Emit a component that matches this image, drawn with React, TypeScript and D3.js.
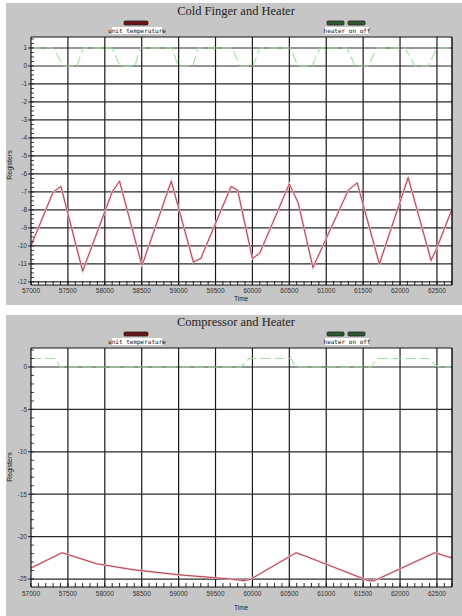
import React from "react";
import * as d3 from "d3";

// x axis ticks (time)
const timeTicks = [57000, 57500, 58000, 58500, 59000, 59500, 60000, 60500, 61000, 61500, 62000, 62500];

// Cold finger chart
const coldTime = [57000, 57300, 57406, 57700, 58100, 58200, 58500, 58520, 58900, 59200, 59300, 59710, 59800, 60000, 60100, 60500, 60620, 60820, 61300, 61420, 61720, 62110, 62420, 62490, 62700];
const coldTemp = [-10.0, -7.0, -6.7, -11.4, -7.0, -6.4, -11.05, -10.9, -6.4, -10.9, -10.7, -6.7, -6.9, -10.7, -10.4, -6.55, -7.6, -11.2, -6.9, -6.5, -11.0, -6.2, -10.8, -10.2, -8.0];
const coldHeaterTime = [57000, 57298, 57447, 57623, 57705, 58098, 58206, 58409, 58477, 58911, 58992, 59195, 59263, 59723, 59832, 60008, 60103, 60509, 60618, 60808, 60916, 61282, 61390, 61566, 61688, 62068, 62203, 62379, 62501, 62705];
const coldHeater = [1, 1, 0, 0, 1, 1, 0, 0, 1, 1, 0, 0, 1, 1, 0, 0, 1, 1, 0, 0, 1, 1, 0, 0, 1, 1, 0, 0, 1, 1];
const coldYTicks = [1, 0, -1, -2, -3, -4, -5, -6, -7, -8, -9, -10, -11, -12];

// Compressor chart
const compTime = [57000, 57420, 57890, 58380, 59000, 59710, 59890, 59980, 60590, 60750, 61570, 61650, 62470, 62660, 62704];
const compTemp = [-23.7, -21.9, -23.2, -23.9, -24.5, -25.0, -25.2, -25.0, -21.9, -22.4, -25.2, -25.2, -21.9, -22.4, -22.5];
const compHeaterTime = [57000, 57325, 57393, 59846, 59954, 60523, 60591, 61607, 61702, 62380, 62515, 62704];
const compHeater = [1, 1, 0, 0, 1, 1, 0, 0, 1, 1, 0, 0];
const compYTicks = [0, -5, -10, -15, -20, -25];

type Pt = [number, number];

interface ChartProps {
  title: string;
  panelTop: number;
  panelBottom: number;
  plotTop: number;
  plotBottom: number;
  yDomain: [number, number];
  yTicks: number[];
  yMinorStep: number;
  temp: Pt[];
  heater: Pt[];
  xLabelY: number;
  timeY: number;
  regY: number;
}

const X0 = 31;
const X1 = 452;
const tickFont = "Liberation Sans, Arial, sans-serif";

function Chart(p: ChartProps) {
  const x = d3.scaleLinear().domain([57000, 62704]).range([X0, X1]);
  const y = d3.scaleLinear().domain(p.yDomain).range([p.plotBottom, p.plotTop]);
  const line = d3
    .line<Pt>()
    .x((d) => x(d[0]))
    .y((d) => y(d[1]));

  const minorX = d3.range(57000, 62704, 100);
  const minorY = d3.range(Math.ceil(p.yDomain[0] / p.yMinorStep) * p.yMinorStep, p.yDomain[1], p.yMinorStep);
  const cx = 236;

  return (
    <g>
      <rect x={6} y={p.panelTop} width={456} height={p.panelBottom - p.panelTop} fill="#c6c6c6" />
      <text x={cx} y={p.plotTop - 22} textAnchor="middle" fontFamily="Liberation Serif, Times New Roman, serif" fontSize={12.5} fill="#222">
        {p.title}
      </text>
      {/* legend */}
      <rect x={124} y={p.plotTop - 16} width={24} height={4} fill="#6a1418" stroke="#222" strokeWidth={0.8} rx={1} />
      <rect x={112} y={p.plotTop - 10} width={50} height={7} fill="#fff" />
      <text x={137} y={p.plotTop - 4.3} textAnchor="middle" fontFamily="DejaVu Sans Mono, monospace" fontSize={6} fill="#111">
        unit temperature
      </text>
      <rect x={327} y={p.plotTop - 16} width={17} height={4} fill="#2f5a2f" stroke="#222" strokeWidth={0.8} rx={1} />
      <rect x={348} y={p.plotTop - 16} width={17} height={4} fill="#2f5a2f" stroke="#222" strokeWidth={0.8} rx={1} />
      <rect x={325} y={p.plotTop - 10} width={44} height={7} fill="#fff" />
      <text x={347} y={p.plotTop - 4.3} textAnchor="middle" fontFamily="DejaVu Sans Mono, monospace" fontSize={6} fill="#111">
        heater on off
      </text>

      {/* plot area */}
      <rect x={X0} y={p.plotTop} width={X1 - X0} height={p.plotBottom - p.plotTop} fill="#fff" />
      {timeTicks.slice(1).map((t) => (
        <line key={"gx" + t} x1={x(t)} x2={x(t)} y1={p.plotTop} y2={p.plotBottom} stroke="#1a1a1a" strokeWidth={1.2} />
      ))}
      {p.yTicks.map((v) => (
        <line key={"gy" + v} x1={X0} x2={X1} y1={y(v)} y2={y(v)} stroke="#2a2a2a" strokeWidth={1.2} />
      ))}

      {/* series */}
      <path d={line(p.heater) || ""} fill="none" stroke="#9be39b" strokeWidth={1.1} strokeDasharray="10,4" />
      <path d={line(p.temp) || ""} fill="none" stroke="#f7c6cf" strokeWidth={2.2} />
      <path d={line(p.temp) || ""} fill="none" stroke="#9a2535" strokeWidth={0.8} />

      {/* frame */}
      <line x1={X0} x2={X1} y1={p.plotTop} y2={p.plotTop} stroke="#111" strokeWidth={1.2} />
      <line x1={X1} x2={X1} y1={p.plotTop} y2={p.plotBottom} stroke="#111" strokeWidth={1.5} />
      <line x1={X0} x2={X1} y1={p.plotBottom} y2={p.plotBottom} stroke="#111" strokeWidth={1.2} />
      <line x1={X0} x2={X0} y1={p.plotTop} y2={p.plotBottom} stroke="#111" strokeWidth={1.2} />

      {/* x ticks */}
      {minorX.map((t) => (
        <line key={"mx" + t} x1={x(t)} x2={x(t)} y1={p.plotBottom} y2={p.plotBottom - 4} stroke="#111" strokeWidth={0.9} />
      ))}
      {timeTicks.map((t) => (
        <text key={"lx" + t} x={x(t)} y={p.xLabelY} textAnchor="middle" fontFamily={tickFont} fontSize={6.5} fill="#333">
          {t}
        </text>
      ))}
      <text x={234} y={p.timeY} fontFamily={tickFont} fontSize={6.5} fill="#222">
        Time
      </text>

      {/* y ticks */}
      {minorY.map((v) => (
        <line key={"my" + v} x1={X0} x2={X0 + 3} y1={y(v)} y2={y(v)} stroke="#111" strokeWidth={0.8} />
      ))}
      {p.yTicks.map((v) => (
        <g key={"ly" + v}>
          <line x1={X0 - 3} x2={X0} y1={y(v)} y2={y(v)} stroke="#111" strokeWidth={0.9} />
          <text x={X0 - 4} y={y(v) + 2.3} textAnchor="end" fontFamily={tickFont} fontSize={6.5} fill="#333">
            {v}
          </text>
        </g>
      ))}
      <text
        transform={`translate(12,${p.regY}) rotate(-90)`}
        textAnchor="middle"
        fontFamily={tickFont}
        fontSize={7}
        fill="#222"
      >
        Registers
      </text>
    </g>
  );
}

export default function App() {
  const zip = (a: number[], b: number[]): Pt[] => a.map((v, i) => [v, b[i]]);
  return (
    <svg width={462} height={616} style={{ position: "absolute", left: 0, top: 0, background: "#fff" }}>
      <Chart
        title="Cold Finger and Heater"
        panelTop={3}
        panelBottom={305}
        plotTop={37}
        plotBottom={285}
        yDomain={[-12.17, 1.61]}
        yTicks={coldYTicks}
        yMinorStep={0.25}
        temp={zip(coldTime, coldTemp)}
        heater={zip(coldHeaterTime, coldHeater)}
        xLabelY={293}
        timeY={301}
        regY={165}
      />
      <Chart
        title="Compressor and Heater"
        panelTop={315}
        panelBottom={616}
        plotTop={348}
        plotBottom={587}
        yDomain={[-25.94, 2.24]}
        yTicks={compYTicks}
        yMinorStep={1}
        temp={zip(compTime, compTemp)}
        heater={zip(compHeaterTime, compHeater)}
        xLabelY={596}
        timeY={610}
        regY={467}
      />
    </svg>
  );
}
